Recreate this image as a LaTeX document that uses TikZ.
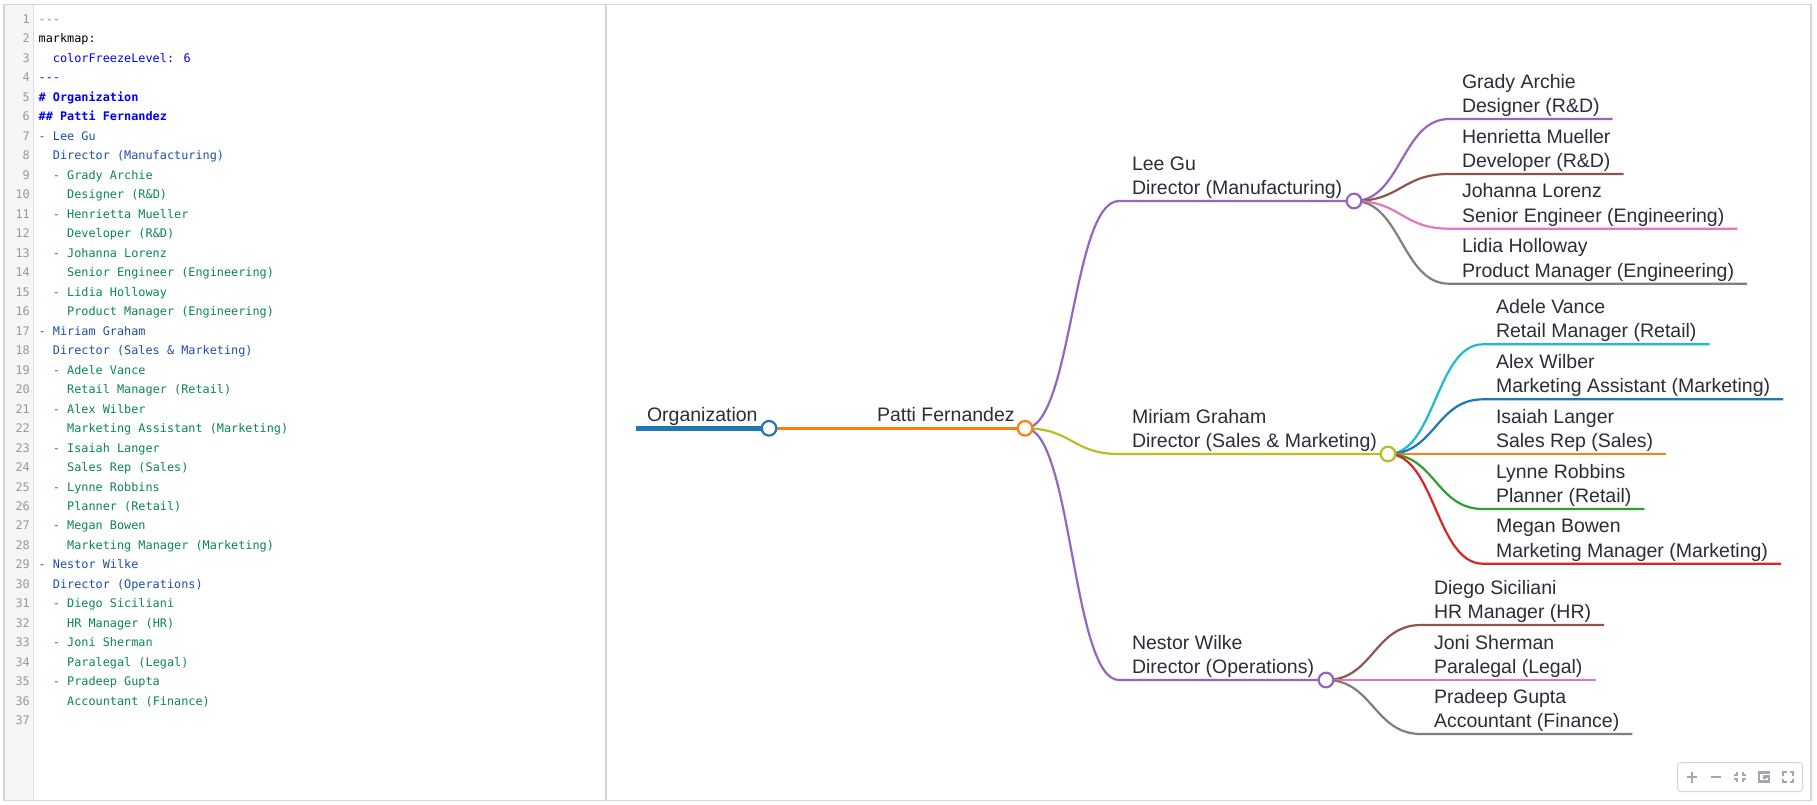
\documentclass[tikz,border=0pt]{standalone}
\usepackage{fontspec}
\setmainfont{Liberation Sans}
\newfontfamily\codefont{DejaVu Sans Mono}
\usetikzlibrary{positioning,backgrounds}

\definecolor{mapblue}{HTML}{1F77B4}
\definecolor{maporange}{HTML}{FF7F0E}
\definecolor{mapgreen}{HTML}{2CA02C}
\definecolor{mapred}{HTML}{D62728}
\definecolor{mappurple}{HTML}{9467BD}
\definecolor{mapbrown}{HTML}{8C564B}
\definecolor{mappink}{HTML}{E377C2}
\definecolor{mapgray}{HTML}{7F7F7F}
\definecolor{mapolive}{HTML}{BCBD22}
\definecolor{mapcyan}{HTML}{17BECF}
\definecolor{frameline}{HTML}{D3D5DC}
\definecolor{toolicon}{HTML}{A2A6B0}
\definecolor{codeblue}{HTML}{0000FF}
\definecolor{listblue}{HTML}{1F4FA8}
\definecolor{listgreen}{HTML}{098658}
\definecolor{labeltext}{HTML}{2B2D3A}

\begin{document}
\begin{tikzpicture}[x=1pt, y=-1pt,
                    person/.style={anchor=south west, align=left, inner xsep=13pt, inner ysep=2pt, outer sep=0pt, text depth=4.4pt, text=labeltext, font=\fontsize{19.5}{24.5}\selectfont},
                    hub/.style={circle, draw=#1, fill=white, line width=2.2pt, minimum size=14.6pt, inner sep=0pt},
                    twig/.style={line width=2.2pt},
                    codeline/.style={anchor=base west, inner sep=0pt, font=\fontsize{11.84}{14}\codefont},
                    linenum/.style={anchor=base east, inner sep=0pt, text=gray!80, font=\fontsize{11.84}{14}\codefont},
                    toolmark/.style={draw=toolicon, line width=2.2pt}
                ]
                \useasboundingbox (0,0) rectangle (1817,804);

                % Source text
                \foreach \num/\ind/\col/\txt in {
                    1/0/gray/---,
                    2/0/black/markmap:,
                    3/2/codeblue/colorFreezeLevel: 6,
                    4/0/codeblue/---,
                    7/0/listblue/- Lee Gu,
                    8/2/listblue/Director (Manufacturing),
                    9/2/listgreen/- Grady Archie,
                    10/4/listgreen/Designer (R\&D),
                    11/2/listgreen/- Henrietta Mueller,
                    12/4/listgreen/Developer (R\&D),
                    13/2/listgreen/- Johanna Lorenz,
                    14/4/listgreen/Senior Engineer (Engineering),
                    15/2/listgreen/- Lidia Holloway,
                    16/4/listgreen/Product Manager (Engineering),
                    17/0/listblue/- Miriam Graham,
                    18/2/listblue/Director (Sales \& Marketing),
                    19/2/listgreen/- Adele Vance,
                    20/4/listgreen/Retail Manager (Retail),
                    21/2/listgreen/- Alex Wilber,
                    22/4/listgreen/Marketing Assistant (Marketing),
                    23/2/listgreen/- Isaiah Langer,
                    24/4/listgreen/Sales Rep (Sales),
                    25/2/listgreen/- Lynne Robbins,
                    26/4/listgreen/Planner (Retail),
                    27/2/listgreen/- Megan Bowen,
                    28/4/listgreen/Marketing Manager (Marketing),
                    29/0/listblue/- Nestor Wilke,
                    30/2/listblue/Director (Operations),
                    31/2/listgreen/- Diego Siciliani,
                    32/4/listgreen/HR Manager (HR),
                    33/2/listgreen/- Joni Sherman,
                    34/4/listgreen/Paralegal (Legal),
                    35/2/listgreen/- Pradeep Gupta,
                    36/4/listgreen/Accountant (Finance)}
                    \node[codeline, text=\col] (code\num) at ({38.5+\ind*7.13},{23.5+(\num-1)*19.48}) {\txt};
                \node[codeline, text=codeblue, font=\fontsize{11.84}{14}\codefont\bfseries] (code5) at (38.5,101.4) {\# Organization};
                \node[codeline, text=codeblue, font=\fontsize{11.84}{14}\codefont\bfseries] (code6) at (38.5,120.9) {\#\# Patti Fernandez};
                \foreach \num in {1,...,37}
                    \node[linenum] (num\num) at (30,{23.5+(\num-1)*19.48}) {\num};

                % Root & Second level
                \coordinate (rootStart) at (636,428.3);
                \node[person] (org) at (634,428.3) {Organization};
                \node[person] (patti) at (864,428.3) {Patti Fernandez};
                \node[hub=mapblue] (hubOrg) at (769,428.3) {};
                \node[hub=maporange] (hubPatti) at (1025,428.3) {};

                % Directors
                \node[person] (lee) at (1119,201) {Lee Gu\\Director (Manufacturing)};
                \node[person] (miriam) at (1119,454) {Miriam Graham\\Director (Sales \& Marketing)};
                \node[person] (nestor) at (1119,680) {Nestor Wilke\\Director (Operations)};
                \node[hub=mappurple] (hubLee) at (1354,201) {};
                \node[hub=mapolive] (hubMiriam) at (1388,454) {};
                \node[hub=mappurple] (hubNestor) at (1326,680) {};

                % Team of Lee Gu
                \node[person] (grady) at (1449,119) {Grady Archie\\Designer (R\&D)};
                \node[person] (henrietta) at (1449,174) {Henrietta Mueller\\Developer (R\&D)};
                \node[person] (johanna) at (1449,228.7) {Johanna Lorenz\\Senior Engineer (Engineering)};
                \node[person] (lidia) at (1449,283.7) {Lidia Holloway\\Product Manager (Engineering)};

                % Team of Miriam Graham
                \node[person] (adele) at (1483,344.3) {Adele Vance\\Retail Manager (Retail)};
                \node[person] (alex) at (1483,399.3) {Alex Wilber\\Marketing Assistant (Marketing)};
                \node[person] (isaiah) at (1483,454) {Isaiah Langer\\Sales Rep (Sales)};
                \node[person] (lynne) at (1483,509) {Lynne Robbins\\Planner (Retail)};
                \node[person] (megan) at (1483,563.7) {Megan Bowen\\Marketing Manager (Marketing)};

                % Team of Nestor Wilke
                \node[person] (diego) at (1421,625) {Diego Siciliani\\HR Manager (HR)};
                \node[person] (joni) at (1421,680) {Joni Sherman\\Paralegal (Legal)};
                \node[person] (pradeep) at (1421,734) {Pradeep Gupta\\Accountant (Finance)};

                \begin{scope}[on background layer]
                    % Frame & Gutter
                    \fill[white] (0,0) rectangle (1817,804);
                    \fill[black!3.5] (4,5) rectangle (33.5,800);
                    \draw[black!13, line width=1pt] (33.5,5) -- (33.5,800);
                    \draw[frameline, line width=1.2pt] (4,4.5) rectangle (1811,800.5);
                    \draw[frameline, line width=2pt] (606,4.5) -- (606,800.5);

                    % Connections
                    \draw[mapblue, line width=4.5pt] (rootStart) -- (hubOrg.center);
                    \draw[maporange, line width=2.7pt] (hubOrg.center) -- (patti.south west) -- (hubPatti.center);
                    \foreach \kid/\parent/\col in {
                        lee/hubPatti/mappurple,
                        miriam/hubPatti/mapolive,
                        nestor/hubPatti/mappurple,
                        grady/hubLee/mappurple,
                        henrietta/hubLee/mapbrown,
                        johanna/hubLee/mappink,
                        lidia/hubLee/mapgray,
                        adele/hubMiriam/mapcyan,
                        alex/hubMiriam/mapblue,
                        isaiah/hubMiriam/maporange,
                        lynne/hubMiriam/mapgreen,
                        megan/hubMiriam/mapred,
                        diego/hubNestor/mapbrown,
                        joni/hubNestor/mappink,
                        pradeep/hubNestor/mapgray}
                        \draw[twig, \col] (\parent.center) .. controls +(47,0) and +(-47,0) .. (\kid.south west) -- (\kid.south east);
                    \draw[twig, mappurple] (lee.south east) -- (hubLee.center);
                    \draw[twig, mapolive] (miriam.south east) -- (hubMiriam.center);
                    \draw[twig, mappurple] (nestor.south east) -- (hubNestor.center);
                \end{scope}

                % Toolbar
                \draw[frameline, rounded corners=3pt, line width=1pt] (1677.5,762.5) rectangle (1802.5,791.5);
                \draw[toolmark] (1686.5,777) -- (1697,777) (1691.8,771.5) -- (1691.8,782.5);
                \draw[toolmark] (1711,777) -- (1721,777);
                \draw[toolmark, line width=1.8pt] (1734,775) -- (1737.3,775) -- (1737.3,772) (1746,775) -- (1742.7,775) -- (1742.7,772)
                                (1734,779) -- (1737.3,779) -- (1737.3,782) (1746,779) -- (1742.7,779) -- (1742.7,782);
                \draw[toolmark] (1770,772.5) -- (1759,772.5) -- (1759,781.5) -- (1769,781.5) -- (1769,776.5) -- (1764.5,776.5) -- (1764.5,779);
                \draw[toolmark] (1783,775.5) -- (1783,772) -- (1786.5,772) (1789.5,772) -- (1793,772) -- (1793,775.5)
                                (1793,778.5) -- (1793,782) -- (1789.5,782) (1786.5,782) -- (1783,782) -- (1783,778.5);
            \end{tikzpicture}
\end{document}
